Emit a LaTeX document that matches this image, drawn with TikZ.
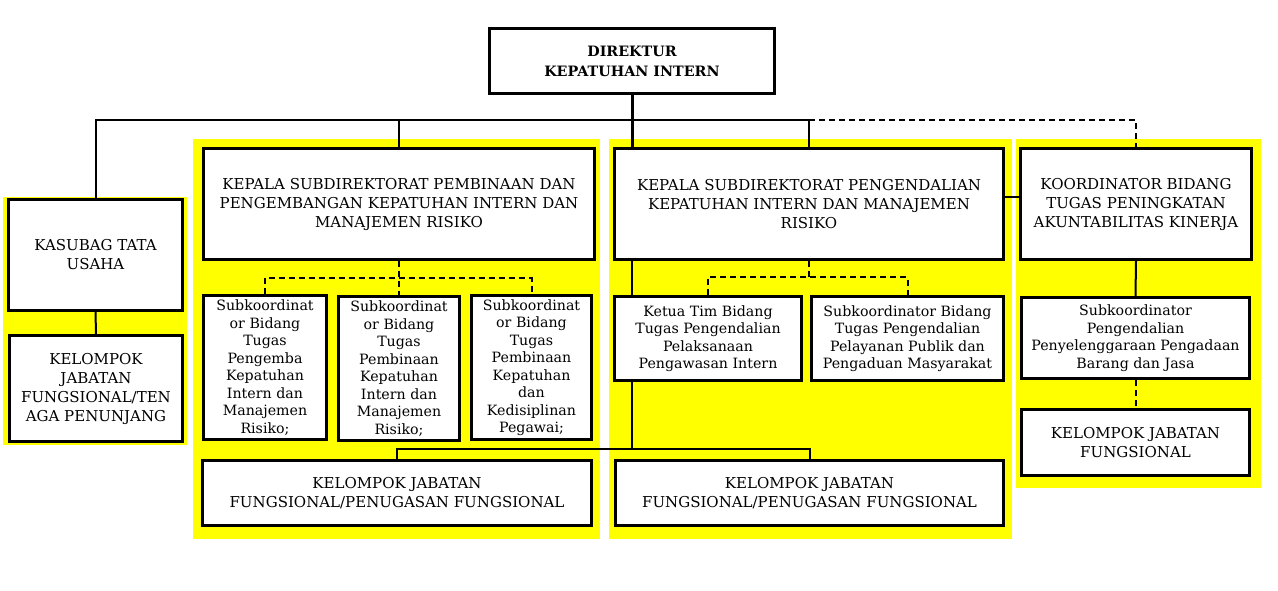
\documentclass[tikz,border=0pt]{standalone}
\usepackage{fontspec}
\setmainfont{DejaVu Serif}
\definecolor{ylw}{RGB}{255,255,0}
\begin{document}
\begin{tikzpicture}[x=1pt,y=-1pt,
  box/.style={draw, line width=3pt, fill=white, align=center, inner sep=0pt},
  capsA/.style={font=\fontsize{15}{19}\selectfont},
  lowA/.style={font=\fontsize{14.2}{17.5}\selectfont},
  conn/.style={line width=2pt},
  dconn/.style={line width=2pt, dash pattern=on 6pt off 4pt},
  panel/.style={fill=ylw, draw=none}]
\useasboundingbox (0,0) rectangle (1278,590);
% yellow panels
\fill[panel] (3,197) rectangle (187,445);
\fill[panel] (193,139) rectangle (600,539);
\fill[panel] (609,139) rectangle (1012,539);
\fill[panel] (1016,139) rectangle (1261,488);
% nodes
\node[box, minimum width=285, minimum height=65, font=\bfseries\fontsize{14.3}{20}\selectfont] (dir) at (632,61) {DIREKTUR\\KEPATUHAN INTERN};
\node[box, capsA, minimum width=174, minimum height=111] (kas) at (95.5,255) {KASUBAG TATA\\USAHA};
\node[box, capsA, minimum width=173, minimum height=106] (kelA) at (96,388.5) {KELOMPOK\\JABATAN\\FUNGSIONAL/TEN\\AGA PENUNJANG};
\node[box, capsA, minimum width=391, minimum height=111] (kp1) at (399,204) {KEPALA SUBDIREKTORAT PEMBINAAN DAN\\PENGEMBANGAN KEPATUHAN INTERN DAN\\MANAJEMEN RISIKO};
\node[box, capsA, minimum width=389, minimum height=111] (kp2) at (809,204) {KEPALA SUBDIREKTORAT PENGENDALIAN\\KEPATUHAN INTERN DAN MANAJEMEN\\RISIKO};
\node[box, capsA, minimum width=231, minimum height=111] (koor) at (1136,204) {KOORDINATOR BIDANG\\TUGAS PENINGKATAN\\AKUNTABILITAS KINERJA};
\node[box, lowA, minimum width=123, minimum height=144] (s1) at (265,367.5) {Subkoordinat\\or Bidang\\Tugas\\Pengemba\\Kepatuhan\\Intern dan\\Manajemen\\Risiko;};
\node[box, lowA, minimum width=121, minimum height=144] (s2) at (399,368.5) {Subkoordinat\\or Bidang\\Tugas\\Pembinaan\\Kepatuhan\\Intern dan\\Manajemen\\Risiko;};
\node[box, lowA, minimum width=120, minimum height=144] (s3) at (531.5,367.5) {Subkoordinat\\or Bidang\\Tugas\\Pembinaan\\Kepatuhan\\dan\\Kedisiplinan\\Pegawai;};
\node[box, capsA, minimum width=389, minimum height=65] (kelB) at (397,493) {KELOMPOK JABATAN\\FUNGSIONAL/PENUGASAN FUNGSIONAL};
\node[box, lowA, minimum width=187, minimum height=84] (ketua) at (708,338.5) {Ketua Tim Bidang\\Tugas Pengendalian\\Pelaksanaan\\Pengawasan Intern};
\node[box, lowA, minimum width=192, minimum height=84] (pel) at (907.5,338.5) {Subkoordinator Bidang\\Tugas Pengendalian\\Pelayanan Publik dan\\Pengaduan Masyarakat};
\node[box, lowA, minimum width=228, minimum height=81] (peng) at (1135.5,338) {Subkoordinator\\Pengendalian\\Penyelenggaraan Pengadaan\\Barang dan Jasa};
\node[box, capsA, minimum width=228, minimum height=66] (kelD) at (1135.5,442.5) {KELOMPOK JABATAN\\FUNGSIONAL};
\node[box, capsA, minimum width=388, minimum height=65] (kelC) at (809.5,493) {KELOMPOK JABATAN\\FUNGSIONAL/PENUGASAN FUNGSIONAL};
% coordinates
\coordinate (bus) at (0,120);
\coordinate (f1) at (399,278);
\coordinate (f2) at (809,277);
\coordinate (j) at (632,449);
% connectors
\draw[line width=3pt] (dir.south) -- (dir.south |- kp2.north);
\draw[conn] (kas.north) -- (kas.north |- bus) -- (dir.south |- bus);
\draw[conn] (dir.south |- bus) -- (kp2.north |- bus) -- (kp2.north);
\draw[conn] (kp1.north) -- (kp1.north |- bus);
\draw[dconn] (kp2.north |- bus) -- (koor.north |- bus) -- (koor.north);
\draw[conn] (kas.south) -- (kelA.north);
\draw[dconn] (kp1.south) -- (s2.north);
\draw[dconn] (s1.north) |- (f1) -| (s3.north);
\draw[conn] (kp2.south -| j) -- (ketua.north -| j);
\draw[conn] (ketua.south -| j) -- (j);
\draw[conn] (kelB.north) |- (j) -| (kelC.north);
\draw[dconn] (kp2.south) -- (f2);
\draw[dconn] (ketua.north) |- (f2) -| (pel.north);
\draw[conn] ([yshift=7pt]kp2.east) -- ([yshift=7pt]koor.west);
\draw[conn] (koor.south) -- (peng.north);
\draw[dconn] (peng.south) -- (kelD.north);
\end{tikzpicture}
\end{document}
